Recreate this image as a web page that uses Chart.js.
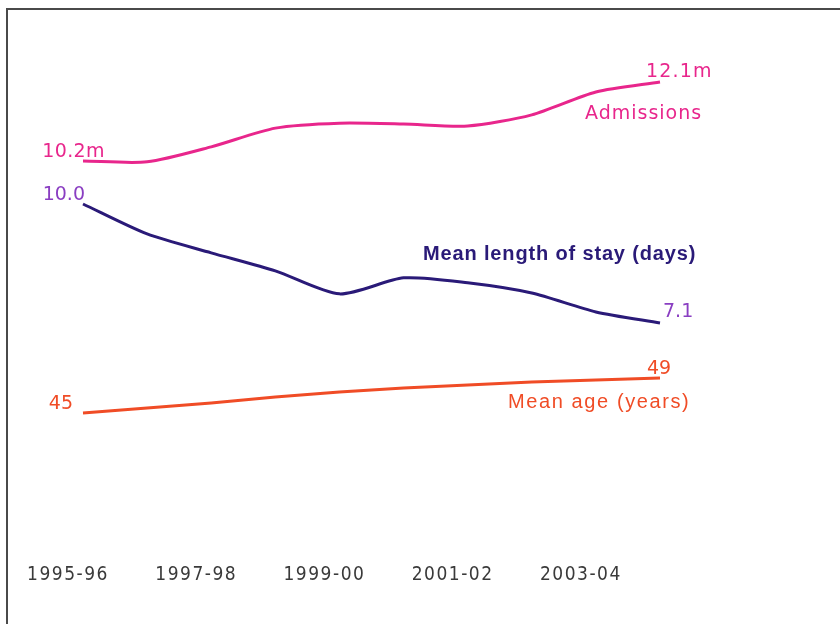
<!DOCTYPE html>
<html>
<head>
<meta charset="utf-8">
<script src="https://cdn.jsdelivr.net/npm/chart.js@4/dist/chart.umd.min.js"></script>
<style>
  html, body { margin: 0; padding: 0; background: #ffffff; }
  #wrap { width: 840px; height: 624px; position: relative; }
</style>
</head>
<body>
<div id="wrap"><canvas id="c" width="840" height="624"></canvas></div>
<script>
// Financial years on the x axis
const years = ['1995-96', '1996-97', '1997-98', '1998-99', '1999-00',
               '2000-01', '2001-02', '2002-03', '2003-04', '2004-05'];

// Hospital admissions, millions
const admissions = [10.2, 10.18, 10.54, 10.99, 11.11, 11.09, 11.04, 11.31, 11.86, 12.1];
// Mean length of stay, days
const lengthOfStay = [10.0, 9.27, 8.81, 8.37, 7.81, 8.2, 8.08, 7.83, 7.37, 7.1];
// Mean age of patients, years
const meanAge = [45, 45.57, 46.14, 46.83, 47.4, 47.86, 48.2, 48.54, 48.77, 49];

const PINK = '#e8268c';
const NAVY = '#2a1a78';
const PURPLE = '#8a3ec2';
const ORANGE = '#f04c26';

// Picture frame around the graphic; wider tracking for the year labels
const framePlugin = {
  id: 'frame',
  beforeDraw(chart) {
    const ctx = chart.ctx;
    ctx.save();
    ctx.fillStyle = '#ffffff';
    ctx.fillRect(0, 0, chart.width, chart.height);
    ctx.strokeStyle = '#4a4a4a';
    ctx.lineWidth = 2;
    ctx.beginPath();
    ctx.moveTo(7, 624);
    ctx.lineTo(7, 9);
    ctx.lineTo(840, 9);
    ctx.stroke();
    ctx.restore();
    ctx.letterSpacing = '1.5px';
  },
  beforeDatasetsDraw(chart) {
    chart.ctx.letterSpacing = '0px';
  }
};

// Start / end values and series names written beside each line
const labelPlugin = {
  id: 'lineLabels',
  afterDatasetsDraw(chart) {
    const ctx = chart.ctx;
    const pt = (ds, i) => chart.getDatasetMeta(ds).data[i];
    const last = years.length - 1;
    const put = (text, x, y, font, color, align, base, spacing) => {
      ctx.font = font;
      ctx.fillStyle = color;
      ctx.textAlign = align;
      ctx.textBaseline = base;
      ctx.letterSpacing = (spacing || 0) + 'px';
      ctx.fillText(text, x, y);
    };
    ctx.save();
    const numFont = '19px "DejaVu Sans"';

    // Admissions
    let a = pt(0, 0), b = pt(0, last);
    put(admissions[0].toFixed(1) + 'm', a.x + 22, a.y - 4, numFont, PINK, 'right', 'alphabetic', 0.4);
    put(admissions[last].toFixed(1) + 'm', b.x - 14, b.y - 5, numFont, PINK, 'left', 'alphabetic', 1.2);
    put('Admissions', b.x - 75, b.y + 32, '19px "DejaVu Sans"', PINK, 'left', 'middle', 1);

    // Mean length of stay
    a = pt(1, 0); b = pt(1, last);
    put(lengthOfStay[0].toFixed(1), a.x + 2, a.y - 4, numFont, PURPLE, 'right', 'alphabetic');
    put(lengthOfStay[last].toFixed(1), b.x + 3, b.y - 11, numFont, PURPLE, 'left', 'middle');
    put('Mean length of stay (days)', b.x - 237, b.y - 69, 'bold 20px "Liberation Sans"', NAVY, 'left', 'middle', 0.85);

    // Mean age
    a = pt(2, 0); b = pt(2, last);
    put(String(meanAge[0]), a.x - 10, a.y - 9, '19px "DejaVu Sans"', ORANGE, 'right', 'middle');
    put(String(meanAge[last]), b.x - 13, b.y - 9, '19px "DejaVu Sans"', ORANGE, 'left', 'middle');
    put('Mean age (years)', b.x - 152, b.y + 24, '20px "Liberation Sans"', ORANGE, 'left', 'middle', 1.6);
    ctx.restore();
  }
};

new Chart(document.getElementById('c'), {
  type: 'line',
  data: {
    labels: years,
    datasets: [
      { label: 'Admissions', data: admissions, yAxisID: 'yAdm',
        borderColor: PINK, borderWidth: 3, pointRadius: 0, tension: 0.25 },
      { label: 'Mean length of stay (days)', data: lengthOfStay, yAxisID: 'yStay',
        borderColor: NAVY, borderWidth: 3, pointRadius: 0, tension: 0.25 },
      { label: 'Mean age (years)', data: meanAge, yAxisID: 'yAge',
        borderColor: ORANGE, borderWidth: 3, pointRadius: 0, tension: 0.25 }
    ]
  },
  options: {
    responsive: false,
    animation: false,
    events: [],
    layout: { padding: { left: 83, right: 180, top: 20, bottom: 24 } },
    plugins: { legend: { display: false }, tooltip: { enabled: false } },
    scales: {
      x: {
        offset: false,
        grid: { display: false, drawTicks: false },
        border: { display: false },
        afterFit(s) { s.height = 60; },
        ticks: {
          autoSkip: false,
          maxRotation: 0,
          padding: 24,
          labelOffset: -15,
          color: '#3a3a3a',
          font: { family: '"DejaVu Sans Condensed", "DejaVu Sans"', size: 19 },
          callback(v, i) { return i % 2 === 0 ? years[i] : ''; }
        }
      },
      yAdm:  { display: false, min: 1.085, max: 13.591 },
      yStay: { display: false, min: 1.812, max: 14.484 },
      yAge:  { display: false, min: 30.486, max: 89.914 }
    }
  },
  plugins: [framePlugin, labelPlugin]
});
</script>
</body>
</html>
